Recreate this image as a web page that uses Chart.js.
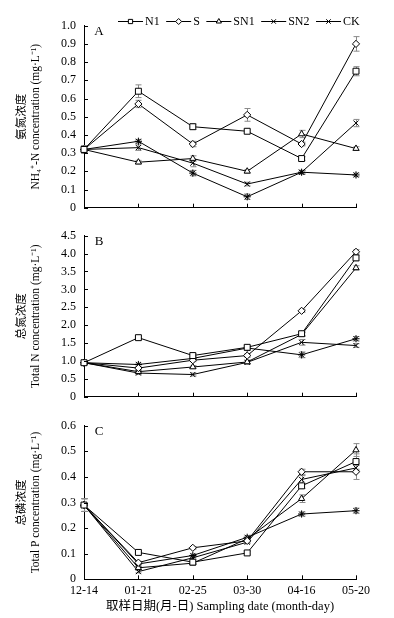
<!DOCTYPE html>
<html><head><meta charset="utf-8">
<script src="https://cdn.jsdelivr.net/npm/chart.js@4.4.0/dist/chart.umd.min.js"></script>
<style>
html,body{margin:0;padding:0;background:#fff;}
#wrap{position:relative;width:394px;height:618px;overflow:hidden;}
#wrap canvas{position:absolute;left:0;top:0;}
</style></head><body>
<div id="wrap">
<canvas id="cA" width="394" height="618"></canvas>
<canvas id="cB" width="394" height="618"></canvas>
<canvas id="cC" width="394" height="618"></canvas>
</div>
<script>
// ---- data ----
const dates = ['12-14','01-21','02-25','03-30','04-16','05-20'];
const seriesNames = ['N1','S','SN1','SN2','CK'];
const seriesStyles = ['rect','rectRot','triangle','crossRot','star'];

// A: NH4+-N (mg/L)
const nh4_N1  = [0.32, 0.64, 0.445, 0.42, 0.27, 0.75];
const nh4_S   = [0.32, 0.57, 0.35, 0.51, 0.35, 0.90];
const nh4_SN1 = [0.32, 0.25, 0.27, 0.20, 0.405, 0.325];
const nh4_SN2 = [0.32, 0.33, 0.245, 0.13, 0.195, 0.465];
const nh4_CK  = [0.32, 0.365, 0.19, 0.06, 0.195, 0.18];
const nh4Err_N1  = [0.02, 0.035, 0.015, 0.01, 0.01, 0.025];
const nh4Err_S   = [0.02, 0.02, 0.015, 0.035, 0.01, 0.04];
const nh4Err_SN1 = [0.02, 0.01, 0.015, 0.01, 0.02, 0.01];
const nh4Err_SN2 = [0.02, 0.015, 0.02, 0.01, 0.01, 0.02];
const nh4Err_CK  = [0.02, 0.01, 0.015, 0.015, 0.01, 0.01];

// B: Total N (mg/L)
const tn_N1  = [0.95, 1.65, 1.15, 1.38, 1.76, 3.88];
const tn_S   = [0.95, 0.80, 1.02, 1.15, 2.40, 4.05];
const tn_SN1 = [0.95, 0.70, 0.83, 0.97, 1.74, 3.60];
const tn_SN2 = [0.95, 0.66, 0.62, 0.96, 1.52, 1.43];
const tn_CK  = [0.95, 0.90, 1.07, 1.36, 1.17, 1.62];
const tnErr_N1  = [0.05, 0.04, 0.05, 0.05, 0.05, 0.08];
const tnErr_S   = [0.05, 0.04, 0.04, 0.05, 0.04, 0.06];
const tnErr_SN1 = [0.05, 0.04, 0.04, 0.05, 0.05, 0.06];
const tnErr_SN2 = [0.05, 0.04, 0.04, 0.05, 0.08, 0.05];
const tnErr_CK  = [0.05, 0.04, 0.04, 0.07, 0.08, 0.06];

// C: Total P (mg/L)
const tp_N1  = [0.29, 0.105, 0.067, 0.103, 0.365, 0.46];
const tp_S   = [0.29, 0.065, 0.123, 0.15, 0.42, 0.42];
const tp_SN1 = [0.29, 0.045, 0.063, 0.158, 0.315, 0.505];
const tp_SN2 = [0.29, 0.03, 0.084, 0.145, 0.39, 0.435];
const tp_CK  = [0.29, 0.06, 0.093, 0.164, 0.255, 0.268];
const tpErr_N1  = [0.025, 0.005, 0.005, 0.005, 0.01, 0.03];
const tpErr_S   = [0.025, 0.005, 0.005, 0.005, 0.01, 0.03];
const tpErr_SN1 = [0.025, 0.005, 0.005, 0.005, 0.015, 0.025];
const tpErr_SN2 = [0.025, 0.005, 0.005, 0.005, 0.015, 0.01];
const tpErr_CK  = [0.025, 0.005, 0.005, 0.005, 0.008, 0.01];

const yTitleA = ['氨氮浓度', 'NH\u2084\u207A-N concentration (mg·L\u207B\u00B9)'];
const yTitleB = ['总氮浓度', 'Total N concentration (mg·L\u207B\u00B9)'];
const yTitleC = ['总磷浓度', 'Total P concentration (mg·L\u207B\u00B9)'];
const xTitle = '取样日期(月-日) Sampling date (month-day)';

// ---- rendering ----
const FAM = '"Liberation Serif", "Times New Roman", "Noto Sans CJK SC", serif';

function drawMarker(ctx, style, x, y, r) {
  ctx.beginPath();
  if (style === 'rect') {
    const s = r * Math.SQRT1_2;
    ctx.rect(x - s, y - s, 2 * s, 2 * s);
    ctx.fill(); ctx.stroke();
  } else if (style === 'rectRot') {
    ctx.moveTo(x, y - r); ctx.lineTo(x + r, y); ctx.lineTo(x, y + r); ctx.lineTo(x - r, y); ctx.closePath();
    ctx.fill(); ctx.stroke();
  } else if (style === 'triangle') {
    ctx.moveTo(x, y - r); ctx.lineTo(x + r * 0.87, y + r * 0.5); ctx.lineTo(x - r * 0.87, y + r * 0.5); ctx.closePath();
    ctx.fill(); ctx.stroke();
  } else if (style === 'crossRot') {
    const s = r * 0.75;
    ctx.moveTo(x - s, y - s); ctx.lineTo(x + s, y + s); ctx.moveTo(x + s, y - s); ctx.lineTo(x - s, y + s);
    ctx.stroke();
  } else if (style === 'star') {
    const s = r * 0.75;
    ctx.moveTo(x - s, y - s); ctx.lineTo(x + s, y + s); ctx.moveTo(x + s, y - s); ctx.lineTo(x - s, y + s);
    ctx.moveTo(x - r, y); ctx.lineTo(x + r, y);
    ctx.stroke();
  }
}

const inTicks = {
  id: 'inTicks',
  afterDraw(chart) {
    const ctx = chart.ctx, a = chart.chartArea;
    ctx.save();
    ctx.strokeStyle = '#000'; ctx.lineWidth = 1;
    ctx.beginPath();
    const ys = chart.scales.y;
    ys.ticks.forEach((t, i) => {
      const p = Math.round(ys.getPixelForTick(i)) + 0.5;
      ctx.moveTo(a.left, p); ctx.lineTo(a.left + 4, p);
    });
    const xs = chart.scales.x;
    xs.ticks.forEach((t, i) => {
      const p = Math.round(xs.getPixelForTick(i)) + 0.5;
      ctx.moveTo(p, a.bottom); ctx.lineTo(p, a.bottom - 4);
    });
    ctx.stroke();
    const letter = chart.options.plugins.panelLetter;
    if (letter) {
      ctx.fillStyle = '#000';
      ctx.font = '13px ' + FAM;
      ctx.textAlign = 'center'; ctx.textBaseline = 'middle';
      ctx.fillText(letter, a.left + 15, a.top + 6);
    }
    ctx.restore();
  }
};

const errBars = {
  id: 'errBars',
  beforeDatasetsDraw(chart) {
    const ctx = chart.ctx, ys = chart.scales.y;
    ctx.save();
    ctx.strokeStyle = '#8a8a8a'; ctx.lineWidth = 1;
    chart.data.datasets.forEach((ds, di) => {
      const meta = chart.getDatasetMeta(di);
      (ds.errors || []).forEach((e, i) => {
        if (!e) return;
        const pt = meta.data[i];
        const v = ds.data[i];
        const x = Math.round(pt.x) + 0.5;
        const y1 = ys.getPixelForValue(v + e), y2 = ys.getPixelForValue(v - e);
        ctx.beginPath();
        ctx.moveTo(x, y1); ctx.lineTo(x, y2);
        ctx.moveTo(x - 3, y1); ctx.lineTo(x + 3, y1);
        ctx.moveTo(x - 3, y2); ctx.lineTo(x + 3, y2);
        ctx.stroke();
      });
    });
    ctx.restore();
  }
};

const legendPlugin = {
  id: 'topLegend',
  afterDraw(chart) {
    if (!chart.options.plugins.topLegend) return;
    const ctx = chart.ctx;
    ctx.save();
    ctx.font = '12px ' + FAM;
    ctx.textBaseline = 'middle'; ctx.textAlign = 'left';
    ctx.strokeStyle = '#000'; ctx.fillStyle = '#000'; ctx.lineWidth = 1;
    let x = 118; const yc = 21.5;
    seriesNames.forEach((name, i) => {
      ctx.beginPath(); ctx.moveTo(x, yc); ctx.lineTo(x + 25, yc); ctx.stroke();
      ctx.fillStyle = '#fff';
      drawMarker(ctx, seriesStyles[i], x + 12.5, yc, 3);
      ctx.fillStyle = '#000';
      ctx.fillText(name, x + 27, yc + 0.5);
      x += 27 + ctx.measureText(name).width + 6.5;
    });
    ctx.restore();
  }
};

function makeDatasets(vals, errs) {
  return seriesNames.map((n, i) => ({
    label: n,
    data: vals[i],
    errors: errs[i],
    borderColor: '#000',
    borderWidth: 1,
    backgroundColor: '#fff',
    pointStyle: seriesStyles[i],
    pointRadius: i === 0 ? 4.2 : 3.6,
    pointBorderColor: '#000',
    pointBackgroundColor: '#fff',
    pointBorderWidth: 1,
    tension: 0,
    fill: false,
    clip: false
  }));
}

function makeChart(id, cfg) {
  const tickFont = { family: FAM, size: 12 };
  return new Chart(document.getElementById(id), {
    type: 'line',
    data: { labels: dates, datasets: makeDatasets(cfg.vals, cfg.errs) },
    options: {
      responsive: false, animation: false, devicePixelRatio: 1,
      events: [],
      layout: { padding: { left: 0, right: 38, top: cfg.top, bottom: cfg.bottom } },
      plugins: {
        legend: { display: false }, tooltip: { enabled: false },
        panelLetter: cfg.letter, topLegend: cfg.legend
      },
      scales: {
        x: {
          type: 'category', offset: false,
          grid: { display: true, drawOnChartArea: false, drawTicks: false },
          border: { display: true, color: '#000', width: 1 },
          ticks: { display: cfg.showX, color: '#000', font: tickFont, padding: 4, maxRotation: 0, autoSkip: false },
          title: { display: cfg.showX, text: xTitle, color: '#000', font: { family: FAM, size: 12.5 }, padding: { top: 2, bottom: 1.3 } },
          afterFit(s) { s.height = cfg.xH; }
        },
        y: {
          min: 0, max: cfg.max,
          grid: { display: true, drawOnChartArea: false, drawTicks: false },
          border: { display: true, color: '#000', width: 1 },
          ticks: { stepSize: cfg.step, color: '#000', font: tickFont, padding: 8,
            callback: v => (Math.abs(v) < 1e-9 ? '0' : Number(v).toFixed(1)) },
          title: { display: true, text: cfg.ytitle, color: '#000', font: { family: FAM, size: 11.5, lineHeight: 1.25 }, padding: { top: 14.8, bottom: 0 } },
          afterFit(s) { s.width = 84; }
        }
      }
    },
    plugins: [errBars, inTicks, legendPlugin]
  });
}

makeChart('cA', {
  vals: [nh4_N1, nh4_S, nh4_SN1, nh4_SN2, nh4_CK],
  errs: [nh4Err_N1, nh4Err_S, nh4Err_SN1, nh4Err_SN2, nh4Err_CK],
  top: 25.7, bottom: 618 - 207.7, max: 1.0, step: 0.1, ytitle: yTitleA,
  letter: 'A', legend: true, showX: false, xH: 0
});
makeChart('cB', {
  vals: [tn_N1, tn_S, tn_SN1, tn_SN2, tn_CK],
  errs: [tnErr_N1, tnErr_S, tnErr_SN1, tnErr_SN2, tnErr_CK],
  top: 235.7, bottom: 618 - 396.7, max: 4.5, step: 0.5, ytitle: yTitleB,
  letter: 'B', legend: false, showX: false, xH: 0
});
makeChart('cC', {
  vals: [tp_N1, tp_S, tp_SN1, tp_SN2, tp_CK],
  errs: [tpErr_N1, tpErr_S, tpErr_SN1, tpErr_SN2, tpErr_CK],
  top: 425.7, bottom: 618 - 579.3 - 36, max: 0.6, step: 0.1, ytitle: yTitleC,
  letter: 'C', legend: false, showX: true, xH: 36
});
</script>
</body></html>
